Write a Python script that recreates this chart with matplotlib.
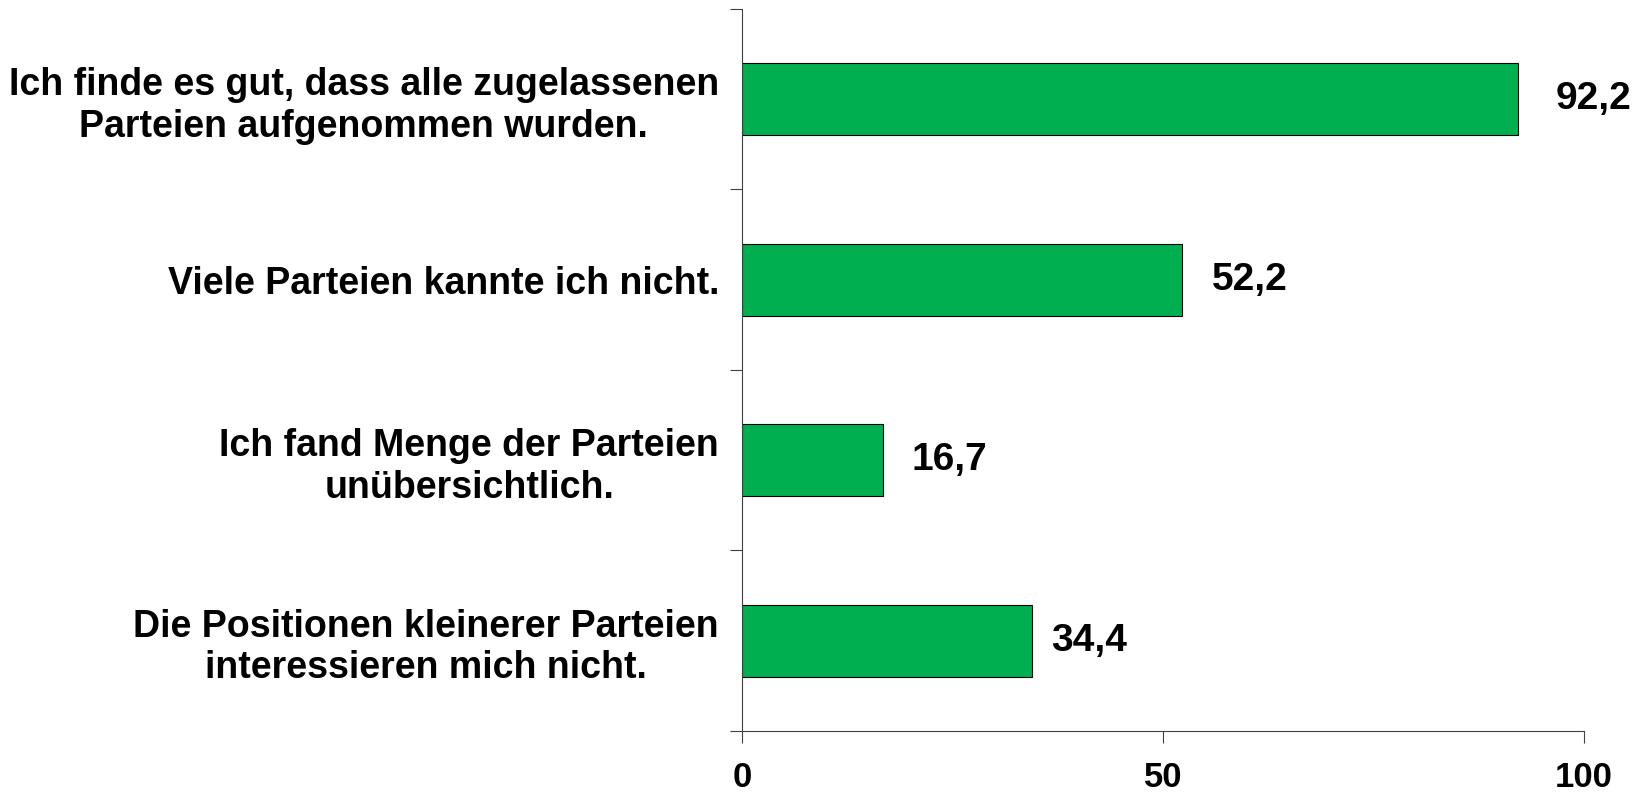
import numpy as np
import matplotlib.pyplot as plt
from matplotlib.ticker import FixedLocator

# ========= Daten =========
categories = [
    "Ich finde es gut, dass alle zugelassenen\nParteien aufgenommen wurden.",
    "Viele Parteien kannte ich nicht.",
    "Ich fand Menge der Parteien\nunübersichtlich.",
    "Die Positionen kleinerer Parteien\ninteressieren mich nicht.",
]
values = [92.2, 52.2, 16.7, 34.4]
value_labels = ["92,2", "52,2", "16,7", "34,4"]
x_ticks = [0, 50, 100]

# Abstand der Wertbeschriftung vom Balkenende (Punkte)
label_offsets = [27, 22, 21, 14]

plt.rcParams['font.family'] = ['Liberation Sans', 'DejaVu Sans']
plt.rcParams['font.weight'] = 'bold'

fig = plt.figure(figsize=(16.43, 8.01), dpi=100)
ax = fig.add_axes([0.4516, 0.0874, 0.5125, 0.9014])

y = np.arange(len(categories))
ax.barh(y, values, height=0.4, color="#00B050", edgecolor="black", linewidth=0.8)

for yi, v, lab, off in zip(y, values, value_labels, label_offsets):
    ax.annotate(lab, xy=(v, yi), xytext=(off, 0), textcoords="offset points",
                ha="left", va="center", fontsize=28, fontweight="bold")

ax.set_xlim(0, 100)
ax.set_ylim(3.5, -0.5)

ax.set_yticks(y)
ax.set_yticklabels(categories, fontsize=27, fontweight="bold", multialignment="center")
ax.yaxis.set_minor_locator(FixedLocator([-0.5, 0.5, 1.5, 2.5, 3.5]))
ax.tick_params(axis="y", which="major", length=0, pad=16.5)
ax.tick_params(axis="y", which="minor", length=8.5, width=0.8, color="#404040")

ax.set_xticks(x_ticks)
ax.set_xticklabels([str(t) for t in x_ticks], fontsize=25, fontweight="bold")
ax.tick_params(axis="x", length=8.5, width=0.8, color="#404040", pad=13)

for s in ["top", "right"]:
    ax.spines[s].set_visible(False)
for s in ["left", "bottom"]:
    ax.spines[s].set_color("#404040")
    ax.spines[s].set_linewidth(0.8)

fig.savefig("out.png", dpi=100)
